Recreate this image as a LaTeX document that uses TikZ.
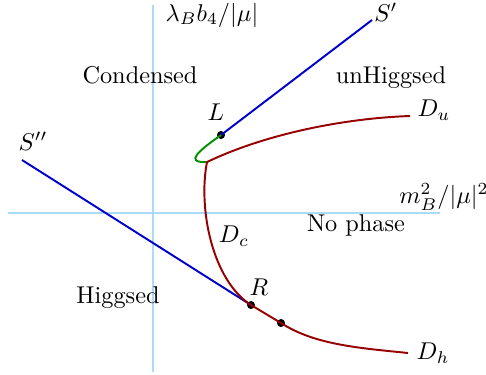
\documentclass[tikz,border=0pt]{standalone}
\begin{document}
\begin{tikzpicture}[x=0.4115pt,y=-0.4115pt,
  axis/.style={draw=axcol,line width=0.6pt},
  sline/.style={draw=sblue,line width=0.8pt},
  dline/.style={draw=dred,line width=0.8pt},
  gline/.style={draw=dgreen,line width=0.8pt},
  dotn/.style={circle,fill=black,inner sep=0pt,minimum size=3.3pt},
  lab/.style={inner sep=1pt}]
\definecolor{axcol}{RGB}{170,220,250}
\definecolor{sblue}{RGB}{0,0,205}
\definecolor{dred}{RGB}{150,0,0}
\definecolor{dgreen}{RGB}{0,145,0}
\useasboundingbox (0,0) rectangle (486,374);
% axes
\coordinate (vt) at (153,5);
\coordinate (vb) at (153,372);
\coordinate (hl) at (8,213);
\coordinate (hr) at (440,213);
\draw[axis] (vt) -- (vb);
\draw[axis] (hl) -- (hr);
\node[inner sep=0pt] (ylab) at (212,15) {$\lambda_B b_4/|\mu|$};
\node[inner sep=0pt] (xlab) at (444,197) {$m_B^2/|\mu|^2$};
% points
\node[dotn] (L) at (221,135) {};
\node[dotn] (R) at (251,305) {};
\node[dotn] (P) at (281,323) {};
\coordinate (C) at (207,162);
\coordinate (Sp) at (372,20);
\coordinate (Spp) at (22,160);
\coordinate (Du) at (410,116);
\coordinate (Dh) at (408,353);
% lines
\draw[sline] (L.center) -- (Sp);
\draw[sline] (Spp) -- (R.center);
\draw[gline] (L.center) .. controls (200,150) and (183,163) .. (C);
\draw[dline] (C) .. controls (270,132) and (350,118) .. (Du);
\draw[dline] (C) .. controls (198,208) and (212,280) .. (R.center);
\draw[dline] (R.center) -- (P.center) .. controls (315,345) and (360,348) .. (Dh);
% labels
\node[inner sep=0pt] (SpL) at (386,12) {$S'$};
\node[lab] (SppL) at (33,141) {$S''$};
\node[lab] (LL) at (216,112) {$L$};
\node[lab] (RL) at (259,287) {$R$};
\node[lab] (DuL) at (434,110) {$D_u$};
\node[lab] (DhL) at (433,353) {$D_h$};
\node[lab] (DcL) at (234,236) {$D_c$};
\node[lab] (cond) at (140,75) {Condensed};
\node[lab] (unh) at (391,78) {unHiggsed};
\node[lab] (nop) at (356,225) {No phase};
\node[lab] (hig) at (118,298) {Higgsed};
\end{tikzpicture}
\end{document}
